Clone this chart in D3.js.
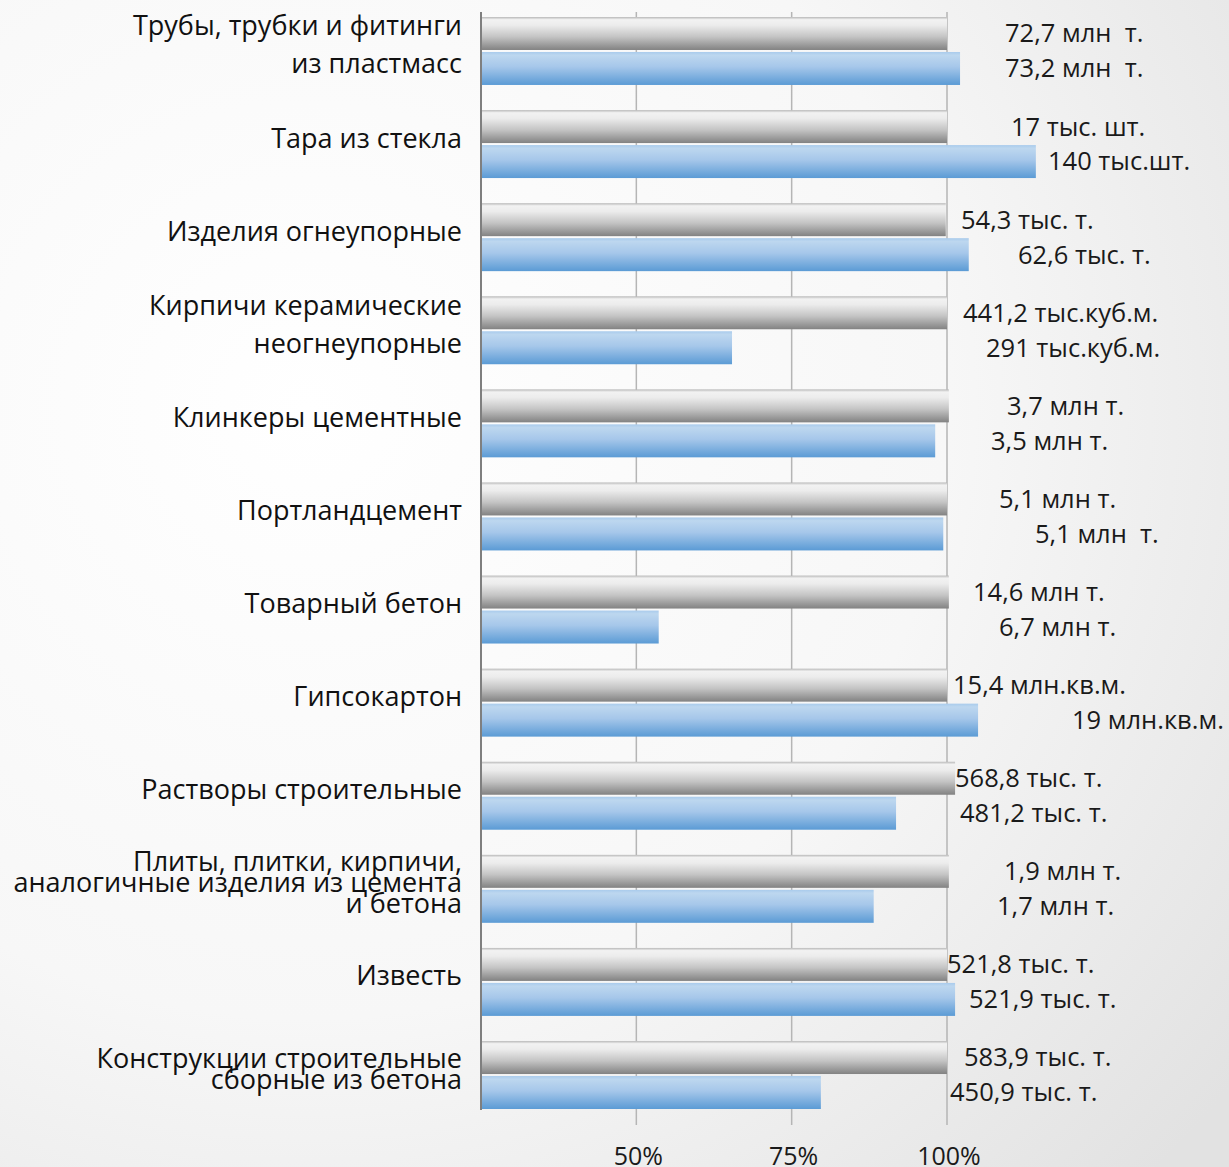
<!DOCTYPE html>
<html>
<head>
<meta charset="utf-8">
<script src="https://cdn.jsdelivr.net/npm/d3@7"></script>
<style>
  html, body { margin: 0; padding: 0; overflow: hidden; }
  svg { display: block; font-family: "Open Sans", "Noto Sans", sans-serif; }
</style>
</head>
<body>
<svg id="chart" width="1229" height="1167"></svg>
<script>
// category names (label lines)
const categories = [
    ["Трубы, трубки и фитинги", "из пластмасс"],
    ["Тара из стекла"],
    ["Изделия огнеупорные"],
    ["Кирпичи керамические", "неогнеупорные"],
    ["Клинкеры цементные"],
    ["Портландцемент"],
    ["Товарный бетон"],
    ["Гипсокартон"],
    ["Растворы строительные"],
    ["Плиты, плитки, кирпичи,", "аналогичные изделия из цемента", "и бетона"],
    ["Известь"],
    ["Конструкции строительные", "сборные из бетона"]
];

// previous period = base (percent)
const baseValues = [100, 100, 99.8, 100, 100.3, 100, 100.3, 100, 101.3, 100.3, 100, 100];
// current period relative to base (percent)
const currentValues = [102.1, 114.3, 103.5, 65.4, 98.1, 99.4, 53.6, 105.0, 91.8, 88.2, 101.3, 79.7];

const baseLabels = ["72,7 млн  т.", "17 тыс. шт.", "54,3 тыс. т.", "441,2 тыс.куб.м.", "3,7 млн т.", "5,1 млн т.",
    "14,6 млн т.", "15,4 млн.кв.м.", "568,8 тыс. т.", "1,9 млн т.", "521,8 тыс. т.", "583,9 тыс. т."];
const currentLabels = ["73,2 млн  т.", "140 тыс.шт.", "62,6 тыс. т.", "291 тыс.куб.м.", "3,5 млн т.", "5,1 млн  т.",
    "6,7 млн т.", "19 млн.кв.м.", "481,2 тыс. т.", "1,7 млн т.", "521,9 тыс. т.", "450,9 тыс. т."];

const tickValues = [50, 75, 100];

// hand placed label left edges (as in the original slide)
const baseLabelX = [1005, 1011, 961, 963, 1007, 999, 973, 953, 955, 1004, 947, 964];
const currentLabelX = [1005, 1048, 1018, 986, 991, 1035, 999, 1072, 960, 997, 969, 950];
// line spacing of the category labels
const lineGap = [38, 0, 0, 38, 0, 0, 0, 0, 0, 21, 0, 21];

const svg = d3.select("#chart");
const width = 1229, height = 1167;

// background
const defs = svg.append("defs");
const bg = defs.append("radialGradient").attr("id", "bg")
    .attr("cx", "25%").attr("cy", "35%").attr("r", "95%");
bg.append("stop").attr("offset", "0%").attr("stop-color", "#ffffff");
bg.append("stop").attr("offset", "55%").attr("stop-color", "#f7f7f7");
bg.append("stop").attr("offset", "100%").attr("stop-color", "#e2e2e2");

const grayGrad = defs.append("linearGradient").attr("id", "grayGrad")
    .attr("x1", 0).attr("y1", 0).attr("x2", 0).attr("y2", 1);
[["0%", "#b8b8b8"], ["8%", "#f2f2f2"], ["25%", "#ececec"], ["60%", "#c4c4c4"], ["100%", "#828282"]]
    .forEach(s => grayGrad.append("stop").attr("offset", s[0]).attr("stop-color", s[1]));

const blueGrad = defs.append("linearGradient").attr("id", "blueGrad")
    .attr("x1", 0).attr("y1", 0).attr("x2", 0).attr("y2", 1);
[["0%", "#a9cbec"], ["10%", "#bdd7ef"], ["45%", "#a6c7ea"], ["100%", "#5b9bd5"]]
    .forEach(s => blueGrad.append("stop").attr("offset", s[0]).attr("stop-color", s[1]));

svg.append("rect").attr("width", width).attr("height", height).attr("fill", "url(#bg)");

// scales
const x = d3.scaleLinear().domain([25, 100]).range([481, 947]);
const y = d3.scaleBand().domain(d3.range(categories.length)).range([17, 1109]).paddingInner(0.27);
const barH = y.bandwidth() / 2 - 1;

// gridlines
svg.append("g").selectAll("line")
    .data(tickValues)
    .join("line")
    .attr("x1", d => x(d)).attr("x2", d => x(d))
    .attr("y1", 12).attr("y2", 1125)
    .attr("stroke", "#b5b5b5").attr("stroke-width", 1.5);

// bars
const groups = svg.append("g").selectAll("g")
    .data(categories)
    .join("g")
    .attr("transform", (d, i) => `translate(0,${y(i)})`);

groups.append("rect")
    .attr("x", x(25))
    .attr("y", 0)
    .attr("width", (d, i) => x(baseValues[i]) - x(25))
    .attr("height", barH)
    .attr("fill", "url(#grayGrad)");

groups.append("rect")
    .attr("x", x(25))
    .attr("y", barH + 2)
    .attr("width", (d, i) => x(currentValues[i]) - x(25))
    .attr("height", barH)
    .attr("fill", "url(#blueGrad)");

// value labels
groups.append("text")
    .attr("x", (d, i) => baseLabelX[i])
    .attr("y", barH / 2)
    .attr("dy", "0.35em")
    .attr("font-size", 25.5)
    .attr("fill", "#1a1a1a")
    .style("white-space", "pre")
    .text((d, i) => baseLabels[i]);

groups.append("text")
    .attr("x", (d, i) => currentLabelX[i])
    .attr("y", barH * 1.5 + 2)
    .attr("dy", "0.35em")
    .attr("font-size", 25.5)
    .attr("fill", "#1a1a1a")
    .style("white-space", "pre")
    .text((d, i) => currentLabels[i]);

// category labels
groups.append("text")
    .attr("text-anchor", "end")
    .attr("font-size", 27)
    .attr("fill", "#111")
    .each(function (lines, i) {
        const t = d3.select(this);
        const lh = lineGap[i];
        const mid = y.bandwidth() / 2 - 6;
        const start = mid - (lines.length - 1) * lh / 2;
        lines.forEach((ln, k) => {
            t.append("tspan")
                .attr("x", 462)
                .attr("y", start + k * lh)
                .attr("dy", "0.35em")
                .text(ln);
        });
    });

// vertical axis line
svg.append("line")
    .attr("x1", x(25)).attr("x2", x(25))
    .attr("y1", 12).attr("y2", 1110)
    .attr("stroke", "#7f7f7f").attr("stroke-width", 2);

// x tick labels
svg.append("g").selectAll("text")
    .data(tickValues)
    .join("text")
    .attr("x", d => x(d) + 2)
    .attr("y", 1156)
    .attr("dy", "0.35em")
    .attr("text-anchor", "middle")
    .attr("font-size", 25)
    .attr("fill", "#1a1a1a")
    .text(d => d + "%");
</script>
</body>
</html>
